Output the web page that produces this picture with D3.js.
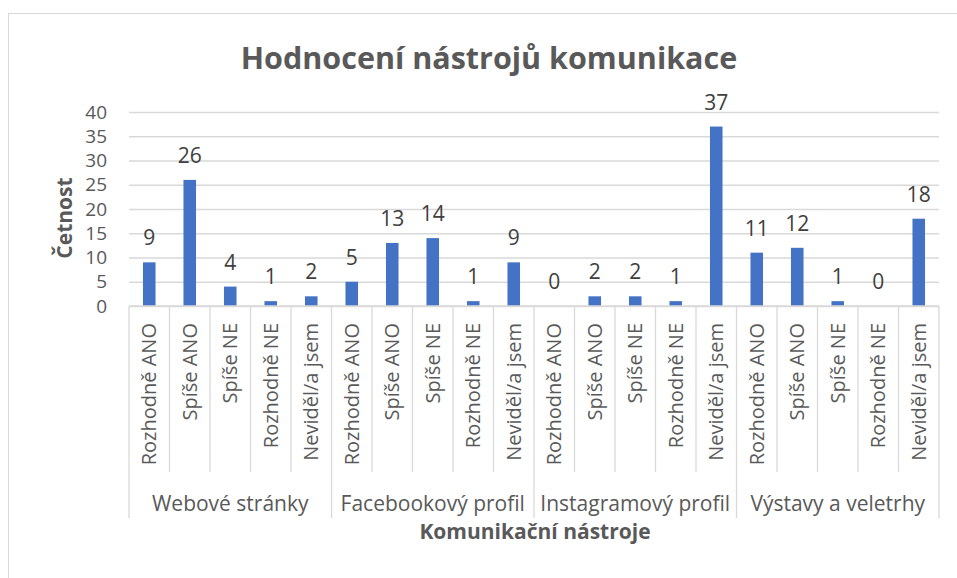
<!DOCTYPE html>
<html>
<head>
<meta charset="utf-8">
<script src="https://cdn.jsdelivr.net/npm/d3@7"></script>
<style>
  body { margin: 0; background: #fff; }
  text { font-family: "Open Sans", sans-serif; }
</style>
</head>
<body>
<svg id="chart" width="957" height="578"></svg>
<script>
// data
const groups = ['Webové stránky', 'Facebookový profil', 'Instagramový profil', 'Výstavy a veletrhy'];
const answers = ['Rozhodně ANO', 'Spíše ANO', 'Spíše NE', 'Rozhodně NE', 'Neviděl/a jsem'];
const webValues = [9, 26, 4, 1, 2];
const facebookValues = [5, 13, 14, 1, 9];
const instagramValues = [0, 2, 2, 1, 37];
const vystavyValues = [11, 12, 1, 0, 18];
const yTicks = [0, 5, 10, 15, 20, 25, 30, 35, 40];

const svg = d3.select('#chart');
const width = +svg.attr('width');
const height = +svg.attr('height');

const margin = { top: 112, right: 18, bottom: 272, left: 129 };
const plotBottom = height - margin.bottom;   // zero line
const plotRight = width - margin.right;

//flatten into one row per bar
const allSeries = [webValues, facebookValues, instagramValues, vystavyValues];
const rows = [];
groups.forEach((g, gi) => {
  answers.forEach((a, ai) => {
    rows.push({ key: gi + '-' + ai, group: g, answer: a, value: allSeries[gi][ai], gi: gi, ai: ai });
  });
});

// chart frame (only left/top edges are visible in the shot)
svg.append('rect')
  .attr('x', 8.5).attr('y', 13.5)
  .attr('width', 1000).attr('height', 700)
  .attr('fill', 'none')
  .attr('stroke', '#d9d9d9')
  .attr('stroke-width', 1);

const x = d3.scaleBand()
  .domain(rows.map(d => d.key))
  .range([margin.left, plotRight]);

const y = d3.scaleLinear()
  .domain([0, 40])
  .range([plotBottom, margin.top]);

// gridlines + y axis labels
const yAxis = d3.axisLeft(y)
  .tickValues(yTicks)
  .tickSize(-(plotRight - margin.left))
  .tickPadding(22);

const yG = svg.append('g')
  .attr('transform', `translate(${margin.left},0)`)
  .call(yAxis);
yG.select('.domain').remove();
yG.selectAll('.tick line').attr('stroke', '#d9d9d9').attr('stroke-width', 1.3);
yG.selectAll('.tick text')
  .attr('fill', '#595959')
  .style('font-size', '19px')
  .style('font-family', '"Open Sans", sans-serif');

// bars
const barW = x.bandwidth() * 0.31;
svg.append('g').selectAll('rect')
  .data(rows)
  .join('rect')
    .attr('x', d => x(d.key) + (x.bandwidth() - barW) / 2)
    .attr('y', d => y(d.value))
    .attr('width', barW)
    .attr('height', d => plotBottom - y(d.value))
    .attr('fill', '#4472c4');

// value labels
svg.append('g').selectAll('text')
  .data(rows)
  .join('text')
    .attr('x', d => x(d.key) + x.bandwidth() / 2)
    .attr('y', d => y(d.value) - 17)
    .attr('text-anchor', 'middle')
    .attr('fill', '#404040')
    .style('font-size', '21px')
    .text(d => d.value);

// category axis (two levels)
const axisG = svg.append('g');
axisG.append('line')
  .attr('x1', margin.left).attr('x2', plotRight)
  .attr('y1', plotBottom).attr('y2', plotBottom)
  .attr('stroke', '#d9d9d9').attr('stroke-width', 1.3);

const innerBottom = plotBottom + 166;
const outerBottom = plotBottom + 212;

// separators between bars
d3.range(rows.length + 1).forEach(i => {
  const xp = i < rows.length ? x(rows[i].key) : plotRight;
  const isGroupEdge = i % answers.length === 0;
  axisG.append('line')
    .attr('x1', xp).attr('x2', xp)
    .attr('y1', plotBottom)
    .attr('y2', isGroupEdge ? outerBottom : innerBottom)
    .attr('stroke', '#d9d9d9')
    .attr('stroke-width', 1.3);
});

// rotated answer labels
axisG.selectAll('.cat')
  .data(rows)
  .join('text')
    .attr('class', 'cat')
    .attr('transform', d => `translate(${x(d.key) + x.bandwidth() / 2},${plotBottom + 17}) rotate(-90)`)
    .attr('text-anchor', 'end')
    .attr('dy', '0.36em')
    .attr('fill', '#595959')
    .style('font-size', '20px')
    .text(d => d.answer);

// group labels
axisG.selectAll('.grp')
  .data(groups)
  .join('text')
    .attr('class', 'grp')
    .attr('x', (g, gi) => {
      const first = x(gi + '-0');
      const last = x(gi + '-' + (answers.length - 1)) + x.bandwidth();
      return (first + last) / 2;
    })
    .attr('y', plotBottom + 205)
    .attr('text-anchor', 'middle')
    .attr('fill', '#595959')
    .style('font-size', '21px')
    .text(g => g);

// titles
svg.append('text')
  .attr('x', 489)
  .attr('y', 69)
  .attr('text-anchor', 'middle')
  .attr('fill', '#595959')
  .style('font-size', '30.5px')
  .style('font-weight', 'bold')
  .text('Hodnocení nástrojů komunikace');

svg.append('text')
  .attr('x', 535)
  .attr('y', 539)
  .attr('text-anchor', 'middle')
  .attr('fill', '#595959')
  .style('font-size', '21px')
  .style('font-weight', 'bold')
  .text('Komunikační nástroje');

svg.append('text')
  .attr('transform', 'translate(72,218) rotate(-90)')
  .attr('text-anchor', 'middle')
  .attr('fill', '#595959')
  .style('font-size', '21px')
  .style('font-weight', 'bold')
  .text('Četnost');
</script>
</body>
</html>
